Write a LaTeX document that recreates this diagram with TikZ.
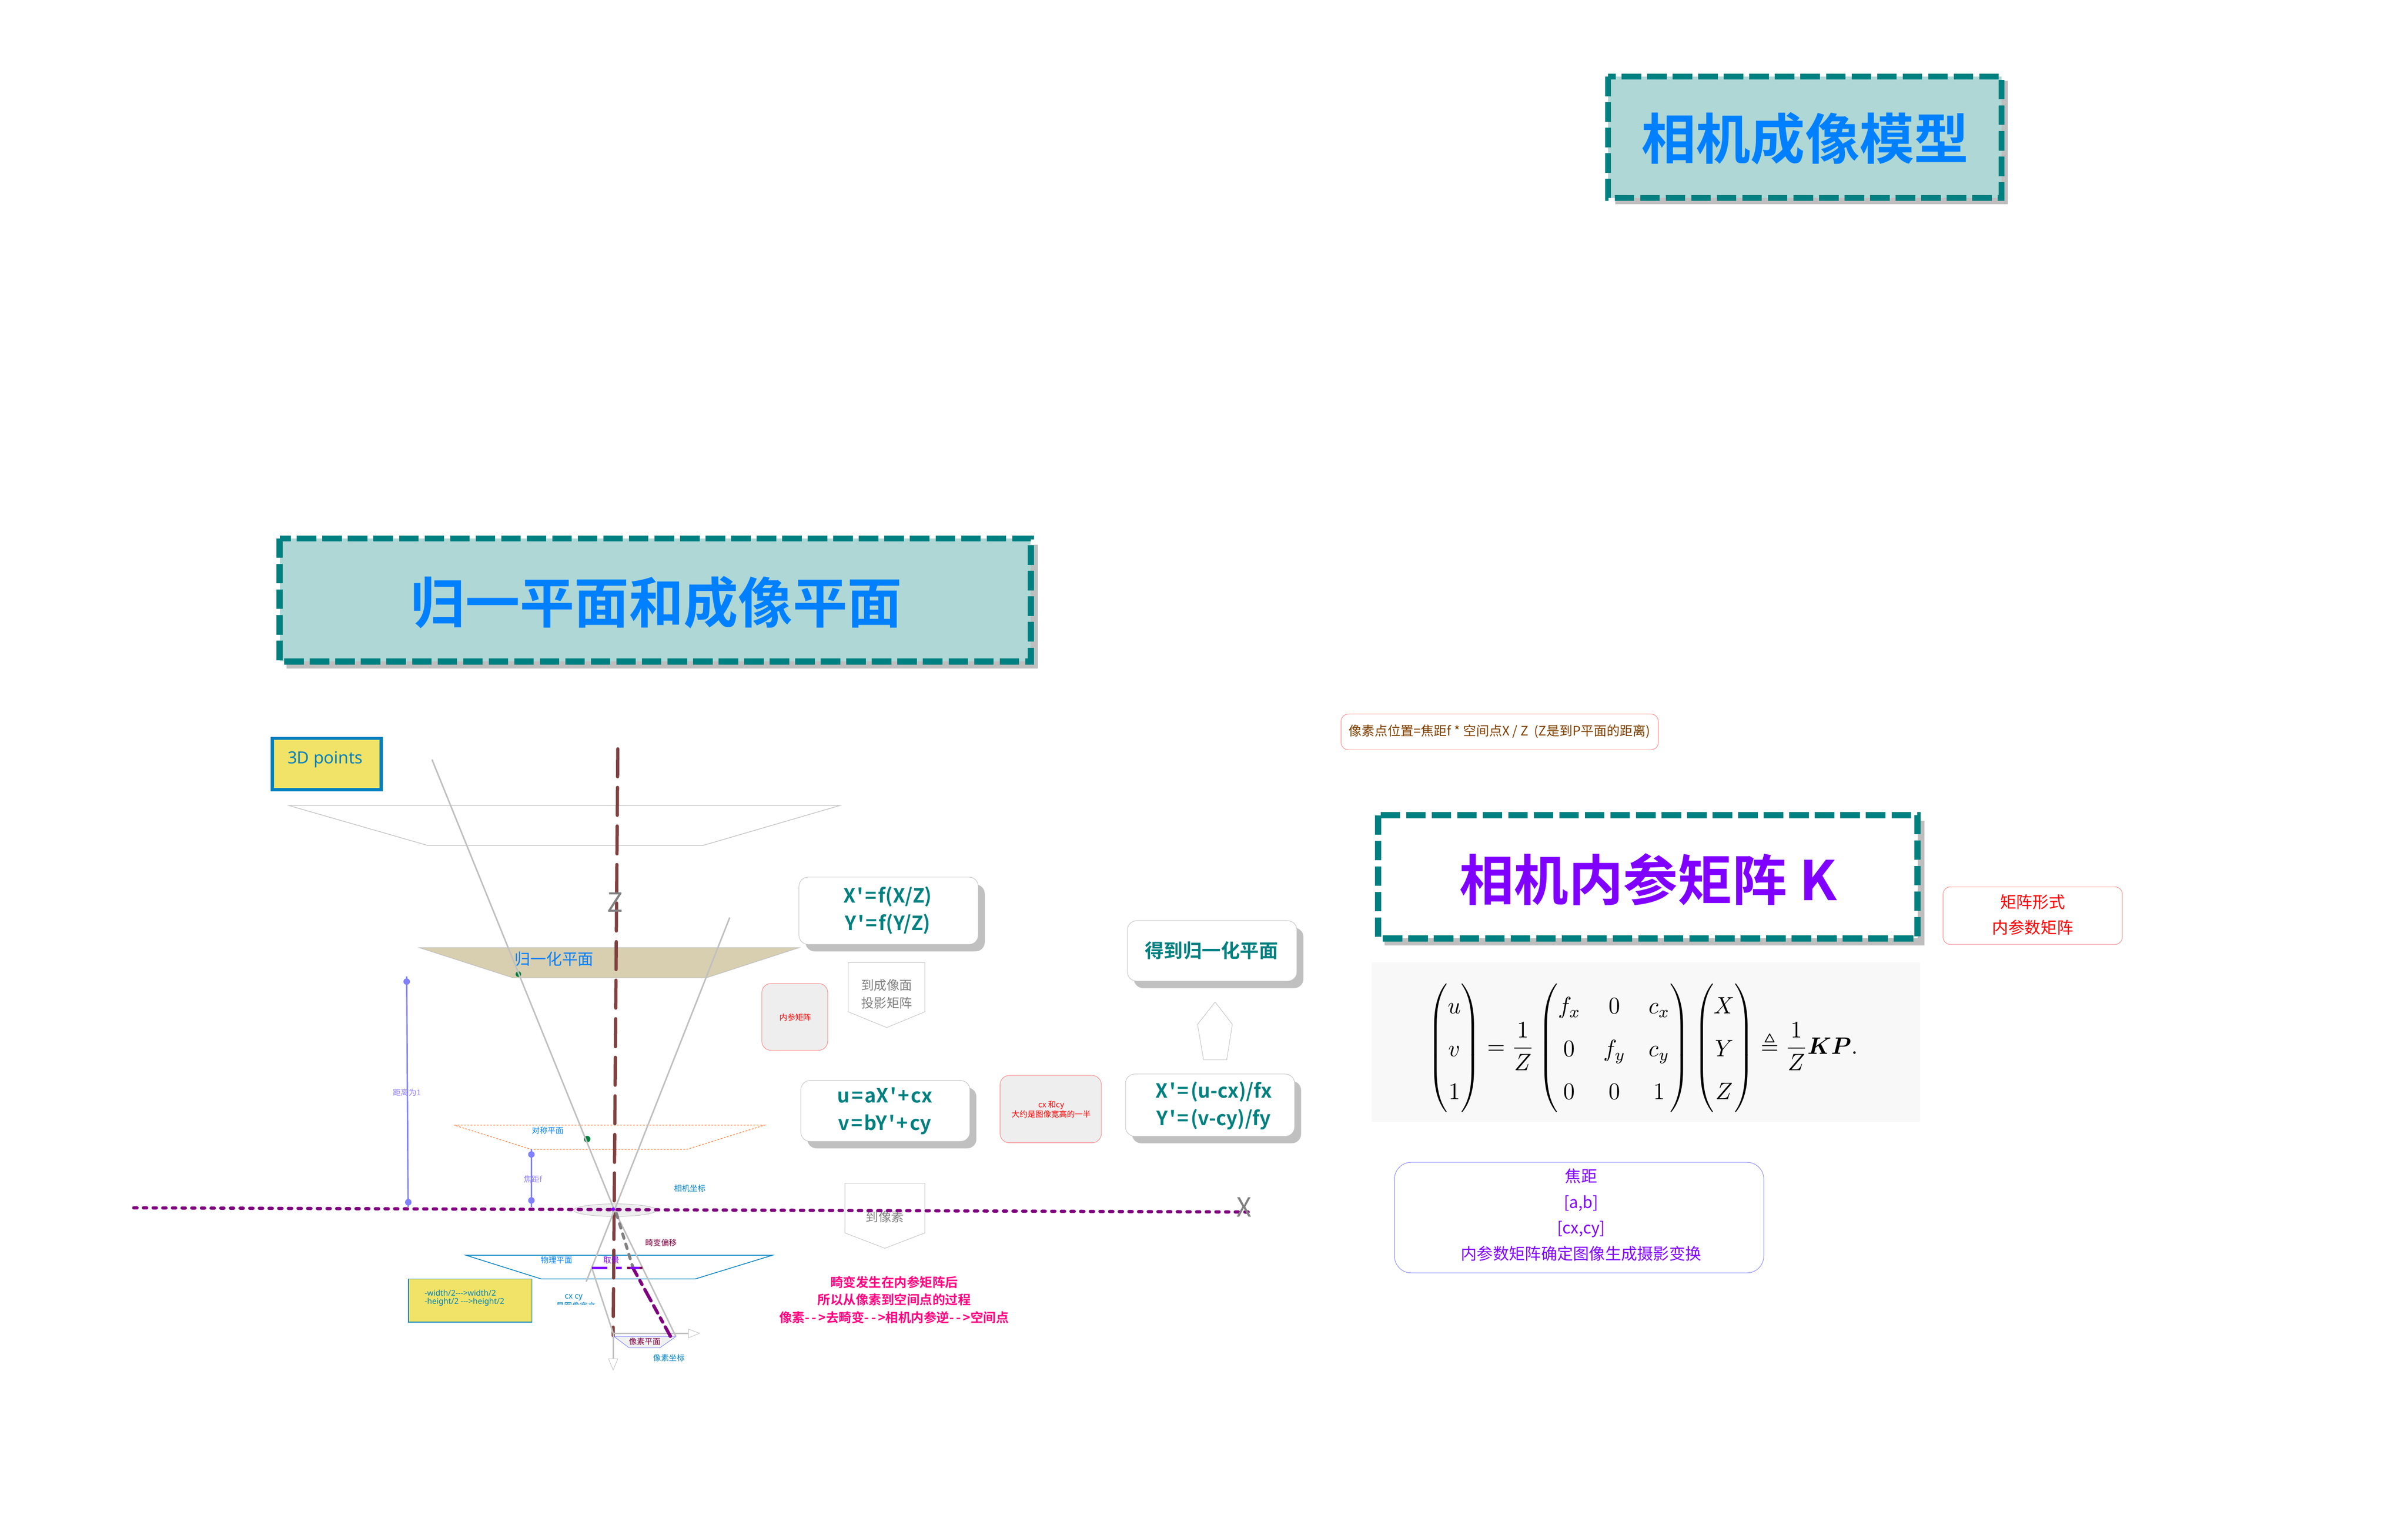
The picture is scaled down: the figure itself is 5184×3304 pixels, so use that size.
\documentclass[tikz,border=0pt]{standalone}
\usepackage{amsmath,amssymb,graphicx,bm}
\usepackage[no-math]{fontspec}
\newfontfamily\cjkf{Noto Sans CJK SC}[BoldFont={Noto Sans CJK SC Bold}]
\newfontfamily\latinf{Noto Sans}
\AtBeginDocument{\cjkf}
\usetikzlibrary{calc,shapes.geometric}
\newdimen\pxu \pxu=0.5pt
\newcommand\fs[2]{\fontsize{\the\dimexpr#1\pxu\relax}{\the\dimexpr#2\pxu\relax}\selectfont}
\newcommand\kk{\kern 3.5\pxu}
\newcommand\kb{\kern 4.5\pxu}
\definecolor{teal1}{HTML}{008080}
\definecolor{titlefill}{HTML}{AED7D6}
\definecolor{blue1}{HTML}{0080FF}
\definecolor{blue2}{HTML}{0080C0}
\definecolor{violet1}{HTML}{8000FF}
\definecolor{peri}{HTML}{8080FF}
\definecolor{grayl}{HTML}{C0C0C0}
\definecolor{shadowc}{HTML}{BEBEBE}
\definecolor{grayt}{HTML}{808080}
\definecolor{yellow1}{HTML}{F0E367}
\definecolor{pink1}{HTML}{FF8080}
\definecolor{hot}{HTML}{FF0080}
\definecolor{brown1}{HTML}{804040}
\definecolor{brownt}{HTML}{804000}
\definecolor{maroon1}{HTML}{800040}
\definecolor{purple1}{HTML}{800080}
\definecolor{green1}{HTML}{008040}
\definecolor{orange1}{HTML}{FF8040}
\definecolor{beige}{HTML}{D8CFB0}
\definecolor{lightg}{HTML}{EEEEEE}
\definecolor{pixfill}{HTML}{EFF2F0}
\definecolor{formulabg}{HTML}{F8F8F8}
\definecolor{peritext}{HTML}{9080FF}
\tikzset{
  lbl/.style={inner sep=0pt,align=center},
  titleline/.style={draw=teal1,line width=6.5pt,dash pattern=on 21pt off 6.5pt},
  shadowbox/.style={fill=shadowc,draw=none},
  softbox/.style={draw=grayl,line width=0.5pt,fill=white,rounded corners=10pt},
  softshadow/.style={fill=grayl,draw=none,rounded corners=10pt},
  formula/.style={lbl,text=teal1,font=\fs{42}{59}\bfseries},
  titletext/.style={lbl,font=\fs{117.5}{120}\bfseries},
  tiny/.style={lbl,font=\fs{17}{18}},
  notebox/.style={draw=pink1,line width=0.5pt,rounded corners=8pt},
  graybox/.style={draw=pink1,line width=0.5pt,fill=lightg,rounded corners=10pt},
  arrowshape/.style={draw=grayl,line width=0.5pt},
  ray/.style={draw=grayl,line width=1.6pt},
  peril/.style={draw=peri,line width=1.5pt},
  peridot/.style={fill=peri,draw=none},
  xaxis/.style={draw=purple1,line width=3.5pt,line cap=round,dash pattern=on 3.5pt off 6.9pt},
  zaxis/.style={draw=brown1,line width=3.5pt,line cap=round,dash pattern=on 30pt off 11.5pt},
  headtri/.style={draw=grayl,line width=0.5pt,fill=white},
}
\begin{document}
\begin{tikzpicture}[x=0.5pt,y=-0.5pt]
\useasboundingbox (0,0) rectangle (5184,3304);

% ---------- titles
\fill[shadowbox] (3477,174) rectangle (4322,440);
\draw[titleline,fill=titlefill] (3462,165) rectangle (4309,426);
\node[titletext,text=blue1] (title1) at (3886,298) {相机成像模型};

\fill[shadowbox] (617,1173) rectangle (2234,1439);
\draw[titleline,fill=titlefill] (602,1159) rectangle (2219,1424);
\node[titletext,text=blue1] (title2) at (1413,1297) {归一平面和成像平面};

\fill[shadowbox] (2981,1767) rectangle (4143,2035);
\draw[titleline,fill=white] (2967,1755) rectangle (4128,2020);
\node[titletext,text=violet1] (title3) at (3548,1893) {相机内参矩阵 K};

% ---------- formula panel
\fill[formulabg] (2953,2071) rectangle (4134,2415);
\node[inner sep=0pt] (eqn) at (3537,2256) {\resizebox*{463pt}{138pt}{$\displaystyle
\renewcommand{\arraystretch}{1.5}
\begin{pmatrix}u\\v\\1\end{pmatrix}=\frac{1}{Z}
\begin{pmatrix}f_x&0&c_x\\0&f_y&c_y\\0&0&1\end{pmatrix}
\begin{pmatrix}X\\Y\\Z\end{pmatrix}\triangleq\frac{1}{Z}\bm{KP}.$}};

% ---------- right notes
\draw[notebox] (2887,1537) rectangle (3570,1614);
\node[lbl,text=brownt,font=\fs{28}{30}] (note1) at (3228,1575) {像素点位置=焦距f * 空间点X / Z\ \ (Z是到P平面的距离)};
\draw[notebox] (4183,1909) rectangle (4569,2033);
\node[lbl,text=red,font=\fs{35}{55}] (note2) at (4376,1969) {矩阵形式\\内参数矩阵};
\draw[draw=peri,line width=0.5pt,rounded corners=18pt] (3002,2502) rectangle (3797,2740);
\node[lbl,text=violet1,font=\fs{34.5}{55.5}] (note3) at (3404,2615) {焦距\\{[a,b]}\\{[cx,cy]}\\内参数矩阵确定图像生成摄影变换};

% ---------- planes
\draw[draw=grayl,line width=0.7pt] (622,1734) -- (1808,1734) -- (1513,1820) -- (921,1820) -- cycle;
\draw[draw=grayl,fill=beige,line width=0.7pt] (903,2040) -- (1720,2040) -- (1520,2105) -- (1105,2105) -- cycle;
\draw[draw=orange1,line width=0.7pt,dash pattern=on 2pt off 1.5pt] (978,2422) -- (1646,2422) -- (1479,2474) -- (1143,2474) -- cycle;
\draw[draw=blue2,line width=0.8pt] (1003,2702) -- (1663,2702) -- (1497,2753) -- (1165,2753) -- cycle;
\draw[draw=peri,fill=pixfill,line width=0.5pt] (1322,2877) -- (1455,2877) -- (1421,2901) -- (1354,2901) -- cycle;
\draw[draw=grayl,fill=lightg,line width=0.5pt] (1324,2605) ellipse (89.5 and 13.5);

% ---------- pentagon arrows
\draw[arrowshape,fill=white] (1826,2072) -- (1991,2072) -- (1991,2178) -- (1909,2212) -- (1826,2178) -- cycle;
\node[lbl,text=grayt,font=\fs{27.5}{38}] (toimg) at (1909,2140) {到成像面\\投影矩阵};
\draw[arrowshape] (1819,2547) -- (1991,2547) -- (1991,2654) -- (1905,2687) -- (1819,2654) -- cycle;
\node[lbl,text=grayt,font=\fs{27.5}{30}] (topix) at (1905,2619) {到像素};
\draw[arrowshape,fill=white] (2616,2157) -- (2653,2205) -- (2641,2281) -- (2591,2281) -- (2578,2205) -- cycle;

% ---------- key points
\coordinate (O) at (1322,2603);
\coordinate (rayA) at (930,1635);
\coordinate (rayB) at (1455,2877);
\coordinate (rayC) at (1571,1975);
\coordinate (rayD) at (1262,2759);
\coordinate (crop) at (1274,2729);
\coordinate (pix0) at (1320,2870);
\coordinate (pixX) at (1482,2870);
\coordinate (pixY) at (1320,2925);
\coordinate (pt) at (1443,2876);
\coordinate (mid) at (1363,2730);

% ---------- green dots (behind the rays)
\fill[green1] (1116,2097) circle (6);
\fill[green1] (1264,2452) circle (7);

% ---------- axes
\draw[zaxis] (1330,1612) -- (1320,2875);
\draw[xaxis] (288,2600) -- (2691,2609);

% ---------- rays
\draw[ray] (rayA) -- (O) -- (rayB);
\draw[ray] (rayC) -- (rayD);
\draw[ray] (crop) -- (pix0);
\draw[ray] (pix0) -- (pixX);
\draw[ray] (pix0) -- (pixY);
\draw[headtri] (1482,2861) -- (1506,2870) -- (1482,2880) -- cycle;
\draw[headtri] (1310,2925) -- (1330,2925) -- (1320,2949) -- cycle;

% ---------- distortion
\draw[draw=grayt,line width=3.2pt,line cap=round,dash pattern=on 5pt off 6.5pt] (1327,2612) -- (mid);
\draw[draw=purple1,line width=3.5pt,line cap=round,dash pattern=on 9pt off 6pt on 5pt off 6pt on 14pt off 6pt] (mid) -- (pt);
\fill[purple1] (pt) circle (4);
\fill[violet1] (1320,2603) circle (4);

% ---------- crop marks
\draw[draw=maroon1,line width=2.5pt] (1350,2729) -- (1383,2729);
\draw[draw=violet1,line width=2.5pt] (1274,2729) -- (1307,2729);
\draw[draw=violet1,line width=2.5pt] (1326,2729) -- (1338,2729);
\draw[draw=violet1,line width=2.5pt] (1356,2729) -- (1377,2729);

% ---------- dimension lines
\draw[peril] (875.5,2102) -- (878.6,2598);
\fill[peridot] (875.5,2113) circle (7);
\fill[peridot] (879,2588) circle (7);
\draw[peril] (1144,2474) -- (1144,2598);
\fill[peridot] (1144,2485) circle (7);
\fill[peridot] (1144,2584) circle (7);

% ---------- small labels
\node[tiny,text=peritext] (dist1) at (876,2352) {距离为1};
\node[tiny,text=peritext] (focalf) at (1147,2538) {焦距f};
\node[lbl,text=blue1,font=\fs{34}{36}] (normp) at (1193,2064) {归一化平面};
\node[tiny,text=blue1] (symp) at (1179,2434) {对称平面};
\node[tiny,text=blue2] (camc) at (1485,2558) {相机坐标};
\node[tiny,text=maroon1] (dist) at (1423,2675) {畸变偏移};
\node[tiny,text=blue1] (phys) at (1198,2713) {物理平面};
\node[tiny,text=violet1] (cropl) at (1316,2713) {取景};
\node[tiny,text=maroon1] (pixp) at (1388,2888) {像素平面};
\node[tiny,text=blue2] (pixc) at (1440,2923) {像素坐标};
\node[lbl,text=grayt,font=\fs{57}{60}] (zlab) at (1324,1942) {Z};
\node[lbl,text=grayt,font=\fs{57}{60}] (xlab) at (2678,2599) {X};

% ---------- cx cy clipped label
\node[lbl,text=blue2,font=\latinf\fs{17}{18}] (cxcy) at (1235,2793) {cx cy};
\begin{scope}
  \clip (1150,2801) rectangle (1330,2808);
  \node[tiny,text=blue2] (cxcyb) at (1240,2811) {是图像宽高};
\end{scope}

% ---------- yellow boxes
\draw[draw=blue2,fill=yellow1,line width=3.5pt] (586.5,1589.5) rectangle (820.5,1699.5);
\node[lbl,text=blue2,font=\latinf\fs{36}{38}] (pts) at (700,1635) {3D points};
\draw[draw=blue2,fill=yellow1,line width=0.8pt] (879,2753) rectangle (1145,2846);
\node[lbl,anchor=west,align=left,text=blue2,font=\latinf\fs{17}{18}] (range) at (914,2794) {-width/2--->width/2\\-height/2 --->height/2};

% ---------- soft boxes
\fill[softshadow] (1734,1904) rectangle (2120,2048);
\draw[softbox] (1720,1888) rectangle (2106,2033);
\node[formula] (f1) at (1911,1960) {X\kk'\kk=\kk f(X/Z)\\Y\kk'\kk=\kk f(Y/Z)};
\fill[softshadow] (1738,2341) rectangle (2102,2472);
\draw[softbox] (1724,2326) rectangle (2088,2457);
\node[formula] (f2) at (1905,2392) {u\kk=\kk aX\kk'\kk+\kk cx\\v\kk=\kk bY\kk'\kk+\kk cy};
\fill[softshadow] (2441,1997) rectangle (2806,2127);
\draw[softbox] (2427,1982) rectangle (2792,2112);
\node[formula,font=\fs{41}{45}\bfseries] (f3) at (2608,2046) {得到归一化平面};
\fill[softshadow] (2437,2327) rectangle (2801,2461);
\draw[softbox] (2423,2312) rectangle (2787,2446);
\node[formula] (f4) at (2613,2380) {X\kk'\kk=\kk(u-cx)/fx\\Y\kk'\kk=\kk(v-cy)/fy};

% ---------- grey notes
\draw[graybox] (1640,2117) rectangle (1782,2261);
\node[lbl,text=red,font=\fs{17}{18}] (intr) at (1712,2190) {内参矩阵};
\draw[graybox] (2153,2315) rectangle (2371,2460);
\node[lbl,text=red,font=\fs{17}{17}] (cxnote) at (2263,2388) {cx 和cy\\大约是图像宽高的一半};

% ---------- pink note
\node[lbl,text=hot,font=\fs{27.5}{38}\bfseries] (pinkn) at (1925,2798) {畸变发生在内参矩阵后\\所以从像素到空间点的过程\\像素-\kb-\kb>去畸变-\kb-\kb>相机内参逆-\kb-\kb>空间点};
\end{tikzpicture}
\end{document}
